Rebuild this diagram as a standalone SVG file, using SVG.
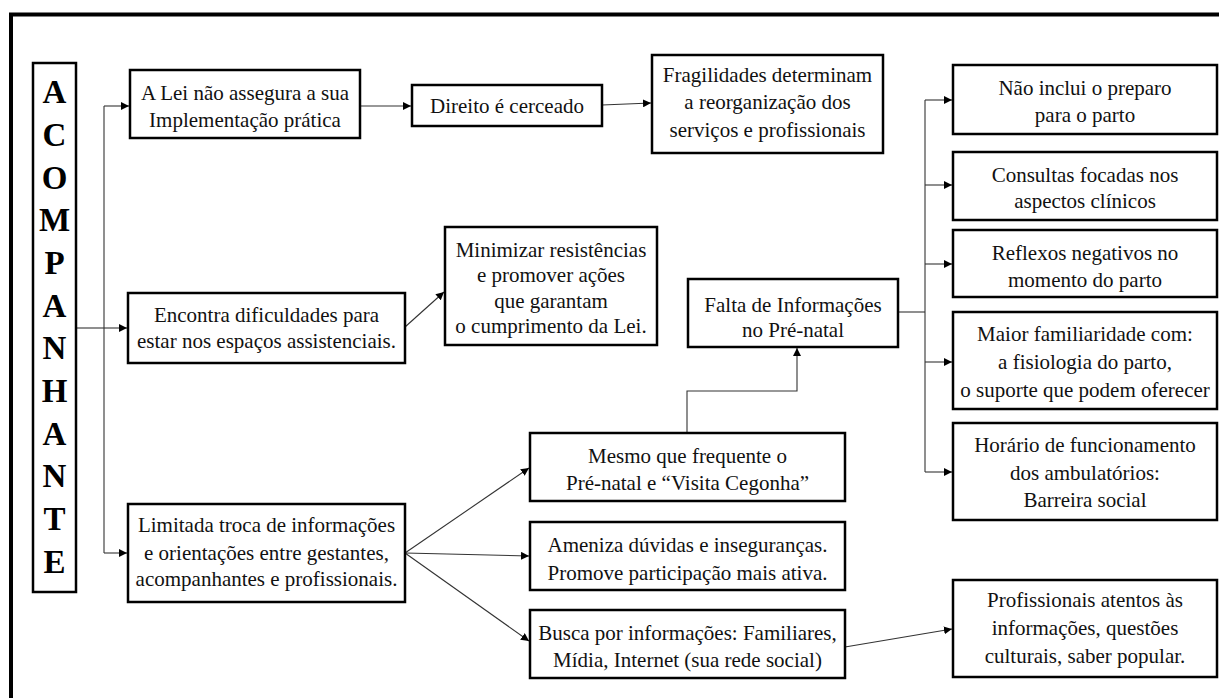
<svg xmlns="http://www.w3.org/2000/svg" width="1219" height="698" viewBox="0 0 1219 698">
<style>
.box{fill:#fff;stroke:#000;stroke-width:2.5}
.t{font-family:"Liberation Serif","Times New Roman",serif;font-size:21px;fill:#111;text-anchor:middle}
.big{font-family:"Liberation Serif","Times New Roman",serif;font-size:33px;font-weight:bold;fill:#000;text-anchor:middle}
.c{fill:none;stroke:#333;stroke-width:1.1}
</style>
<defs>
<marker id="ah" markerUnits="userSpaceOnUse" markerWidth="9" markerHeight="8" refX="8" refY="4" orient="auto">
<path d="M0,0 L8,4 L0,8 z" fill="#000"/>
</marker>
</defs>
<rect width="1219" height="698" fill="#fff"/>
<path d="M11,698 V14.5 H1219" fill="none" stroke="#000" stroke-width="4"/>

<g id="connectors">
<path class="c" d="M76,328 H104" />
<path class="c" d="M104,106 V553" />
<path class="c" d="M104,106 H129" marker-end="url(#ah)"/>
<path class="c" d="M104,328 H127" marker-end="url(#ah)"/>
<path class="c" d="M104,553 H127" marker-end="url(#ah)"/>
<path class="c" d="M360,106 H411" marker-end="url(#ah)"/>
<path class="c" d="M602,105 L651,103" marker-end="url(#ah)"/>
<path class="c" d="M405,327 L444,292" marker-end="url(#ah)"/>
<path class="c" d="M405,553 L529,468" marker-end="url(#ah)"/>
<path class="c" d="M405,553 L529,556" marker-end="url(#ah)"/>
<path class="c" d="M405,553 L529,641" marker-end="url(#ah)"/>
<path class="c" d="M687,433 V391 H797 V348" marker-end="url(#ah)"/>
<path class="c" d="M898,312 H925" />
<path class="c" d="M925,100 V472" />
<path class="c" d="M925,100 H952" marker-end="url(#ah)"/>
<path class="c" d="M925,185 H952" marker-end="url(#ah)"/>
<path class="c" d="M925,264 H952" marker-end="url(#ah)"/>
<path class="c" d="M925,362 H952" marker-end="url(#ah)"/>
<path class="c" d="M925,472 H952" marker-end="url(#ah)"/>
<path class="c" d="M845,647 L952,629" marker-end="url(#ah)"/>
</g>

<g id="acompanhante">
<rect class="box" x="33" y="63" width="43" height="529"/>
<text class="big" x="54.5" y="103">A</text>
<text class="big" x="54.5" y="146">C</text>
<text class="big" x="54.5" y="189">O</text>
<text class="big" x="54.5" y="231">M</text>
<text class="big" x="54.5" y="274">P</text>
<text class="big" x="54.5" y="317">A</text>
<text class="big" x="54.5" y="359">N</text>
<text class="big" x="54.5" y="402">H</text>
<text class="big" x="54.5" y="445">A</text>
<text class="big" x="54.5" y="487">N</text>
<text class="big" x="54.5" y="530">T</text>
<text class="big" x="54.5" y="573">E</text>
</g>

<g id="lei">
<rect class="box" x="130" y="70" width="230" height="68"/>
<text class="t" x="245" y="100">A Lei não assegura a sua</text>
<text class="t" x="245" y="127">Implementação prática</text>
</g>

<g id="direito">
<rect class="box" x="412" y="85" width="190" height="41"/>
<text class="t" x="507" y="113">Direito é cerceado</text>
</g>

<g id="fragilidades">
<rect class="box" x="652" y="55" width="231" height="98"/>
<text class="t" x="767.5" y="82">Fragilidades determinam</text>
<text class="t" x="767.5" y="109">a reorganização dos</text>
<text class="t" x="767.5" y="137">serviços e profissionais</text>
</g>

<g id="encontra">
<rect class="box" x="128" y="293" width="277" height="70"/>
<text class="t" x="266.5" y="322">Encontra dificuldades para</text>
<text class="t" x="266.5" y="348">estar nos espaços assistenciais.</text>
</g>

<g id="minimizar">
<rect class="box" x="445" y="227" width="212" height="118"/>
<text class="t" x="551" y="257">Minimizar resistências</text>
<text class="t" x="551" y="282">e promover ações</text>
<text class="t" x="551" y="308">que garantam</text>
<text class="t" x="551" y="333">o cumprimento da Lei.</text>
</g>

<g id="limitada">
<rect class="box" x="128" y="504" width="277" height="98"/>
<text class="t" x="266.5" y="532">Limitada troca de informações</text>
<text class="t" x="266.5" y="560">e orientações entre gestantes,</text>
<text class="t" x="266.5" y="586">acompanhantes e profissionais.</text>
</g>

<g id="falta">
<rect class="box" x="688" y="279" width="210" height="68"/>
<text class="t" x="793" y="312">Falta de Informações</text>
<text class="t" x="793" y="337">no Pré-natal</text>
</g>

<g id="mesmo">
<rect class="box" x="530" y="433" width="315" height="68"/>
<text class="t" x="687.5" y="463">Mesmo que frequente o</text>
<text class="t" x="687.5" y="490">Pré-natal e “Visita Cegonha”</text>
</g>

<g id="ameniza">
<rect class="box" x="530" y="522" width="315" height="68"/>
<text class="t" x="687.5" y="552">Ameniza dúvidas e inseguranças.</text>
<text class="t" x="687.5" y="580">Promove participação mais ativa.</text>
</g>

<g id="busca">
<rect class="box" x="530" y="610" width="315" height="68"/>
<text class="t" x="687.5" y="640">Busca por informações: Familiares,</text>
<text class="t" x="687.5" y="667">Mídia, Internet (sua rede social)</text>
</g>

<g id="nao-inclui">
<rect class="box" x="953" y="65" width="264" height="69"/>
<text class="t" x="1085" y="95">Não inclui o preparo</text>
<text class="t" x="1085" y="122">para o parto</text>
</g>

<g id="consultas">
<rect class="box" x="953" y="152" width="264" height="68"/>
<text class="t" x="1085" y="182">Consultas focadas nos</text>
<text class="t" x="1085" y="208">aspectos clínicos</text>
</g>

<g id="reflexos">
<rect class="box" x="953" y="230" width="264" height="67"/>
<text class="t" x="1085" y="260">Reflexos negativos no</text>
<text class="t" x="1085" y="287">momento do parto</text>
</g>

<g id="maior">
<rect class="box" x="953" y="312" width="264" height="97"/>
<text class="t" x="1085" y="341">Maior familiaridade com:</text>
<text class="t" x="1085" y="369">a fisiologia do parto,</text>
<text class="t" x="1085" y="397">o suporte que podem oferecer</text>
</g>

<g id="horario">
<rect class="box" x="953" y="423" width="264" height="97"/>
<text class="t" x="1085" y="452">Horário de funcionamento</text>
<text class="t" x="1085" y="480">dos ambulatórios:</text>
<text class="t" x="1085" y="507">Barreira social</text>
</g>

<g id="profissionais">
<rect class="box" x="953" y="580" width="264" height="97"/>
<text class="t" x="1085" y="607">Profissionais atentos às</text>
<text class="t" x="1085" y="635">informações, questões</text>
<text class="t" x="1085" y="663">culturais, saber popular.</text>
</g>
</svg>
